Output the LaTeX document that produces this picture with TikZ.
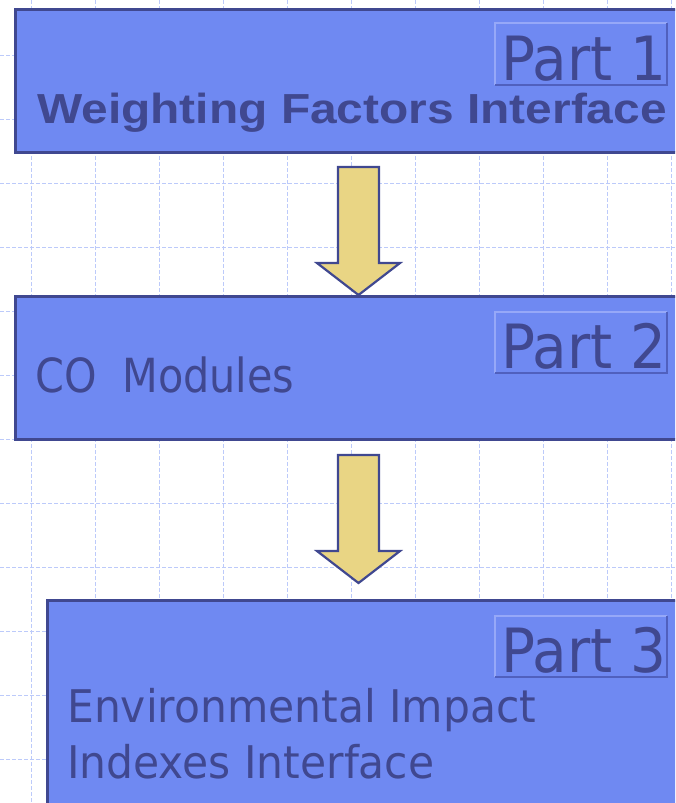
\documentclass[tikz,border=0pt]{standalone}
\usepackage{fontspec}
\setmainfont{DejaVu Sans}
\newfontfamily\partfont[FakeStretch=0.925]{DejaVu Sans}
\newfontfamily\mainfont[FakeStretch=0.943]{DejaVu Sans}
\newfontfamily\cofont[FakeStretch=0.88]{DejaVu Sans}
\newfontfamily\arialfont[FakeStretch=1.14]{Liberation Sans}
\definecolor{boxfill}{RGB}{111,137,242}
\definecolor{navy}{RGB}{64,72,144}
\definecolor{arrowfill}{RGB}{233,213,132}
\definecolor{gridc}{RGB}{188,202,250}
\definecolor{bevlight}{RGB}{150,168,248}
\definecolor{bevdark}{RGB}{80,96,190}
\tikzset{
  partbox/.style={fill=boxfill, draw=navy, line width=2.6pt, inner sep=0pt, anchor=north west},
  blockarrow/.style={fill=arrowfill, draw=navy, line width=2.2pt, line join=miter},
  gridline/.style={draw=gridc, dash pattern=on 4pt off 2pt, line width=1pt},
  parttext/.style={text=navy, inner sep=0pt, anchor=base west, font=\partfont\fontsize{61}{66}\selectfont},
  maintext/.style={text=navy, inner sep=0pt, anchor=base west, font=\mainfont\fontsize{45}{56}\selectfont},
}
\begin{document}
\begin{tikzpicture}[x=1pt,y=-1pt]
\useasboundingbox (0,0) rectangle (675,803);
\clip (0,0) rectangle (675,803);
\fill[white] (0,0) rectangle (675,803);
% grid
\foreach \gx in {31,95,...,671} \draw[gridline] (\gx,0) -- (\gx,803);
\foreach \gy in {55,119,...,759} \draw[gridline] (0,\gy) -- (675,\gy);
% boxes
\node[partbox, minimum width=680pt, minimum height=143pt] (b1) at (14,8) {};
\node[partbox, minimum width=680pt, minimum height=143pt] (b2) at (14,295) {};
\node[partbox, minimum width=660pt, minimum height=220pt] (b3) at (46,599) {};
% part label frames
\newcommand\partframe[3]{%
  \fill[boxfill] (#1,#2) rectangle (667,#3);
  \draw[bevlight, line width=2.2pt] (#1,#3) -- (#1,#2) -- (667,#2);
  \draw[bevdark, line width=2.2pt] (#1,#3) -- (667,#3) -- (667,#2);
}
\partframe{495}{23}{85}
\partframe{495}{312}{373}
\partframe{495}{616}{677}
\node[parttext] (p1) at (501,80) {Part 1};
\node[parttext] (p2) at (501,368) {Part 2};
\node[parttext] (p3) at (501,672) {Part 3};
% main texts
\node[text=navy, inner sep=0pt, anchor=base west, font=\arialfont\bfseries\fontsize{42}{50}\selectfont] (t1) at (37,123) {Weighting Factors Interface};
\node[text=navy, inner sep=0pt, anchor=base west, font=\cofont\fontsize{47}{56}\selectfont] (t2) at (35,392) {CO\hspace{0.55em}Modules};
\node[maintext] (t3a) at (67,722) {Environmental Impact};
\node[maintext] (t3b) at (67,778) {Indexes Interface};
% arrows between boxes
\draw[blockarrow] (338,167) -- (379,167) -- (379,263) -- (400,263) -- (358.5,295) -- (317,263) -- (338,263) -- cycle;
\draw[blockarrow] (338,455) -- (379,455) -- (379,551) -- (400,551) -- (358.5,583) -- (317,551) -- (338,551) -- cycle;
\end{tikzpicture}
\end{document}
